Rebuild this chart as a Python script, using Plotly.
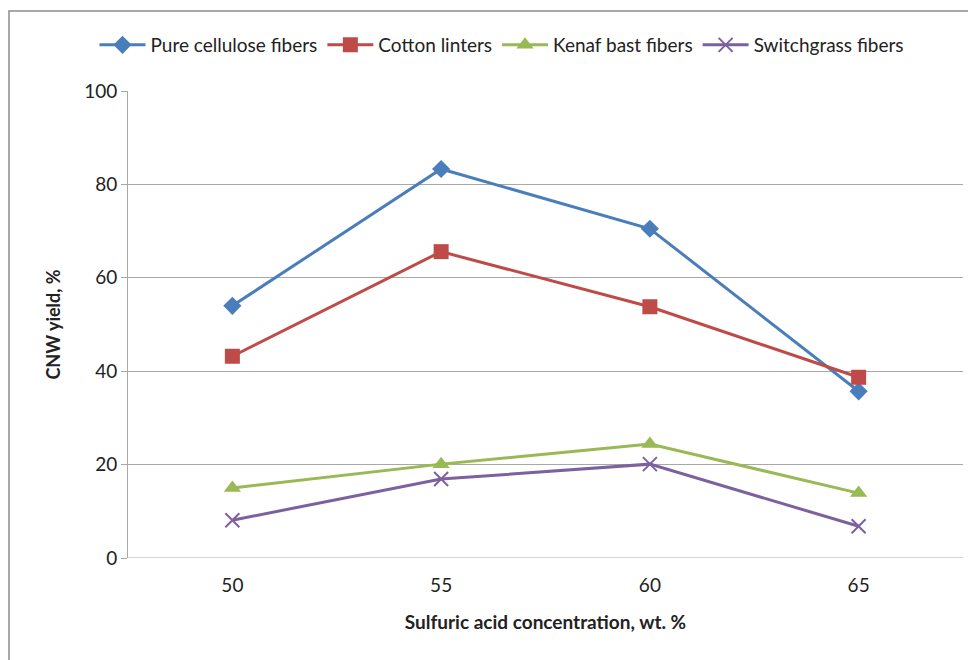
import plotly.graph_objects as go

categories = ["50", "55", "60", "65"]
pure_cellulose = [54.0, 83.3, 70.5, 35.7]
cotton_linters = [43.2, 65.6, 53.8, 38.7]
kenaf_bast = [15.0, 20.1, 24.4, 13.9]
switchgrass = [8.1, 16.9, 20.1, 6.8]
y_ticks = [0, 20, 40, 60, 80, 100]

series = [
    ("Pure cellulose fibers", pure_cellulose, "#4A7EBB", "diamond", 14),
    ("Cotton linters", cotton_linters, "#BE4B48", "square", 15),
    ("Kenaf bast fibers", kenaf_bast, "#98B954", "triangle-up", 15),
    ("Switchgrass fibers", switchgrass, "#7D60A0", "x-thin", 14),
]

font_fam = "Lato, Carlito, Calibri, sans-serif"

# page body has an 8px default margin; figure is sized/offset to compensate
W, H = 968, 652
L, T, R, B = 120, 83, 13, 102
PW, PH = W - L - R, H - T - B

fig = go.Figure()
for name, vals, color, sym, size in series:
    marker = dict(symbol=sym, size=size, color=color)
    if sym == "x-thin":
        marker["line"] = dict(color=color, width=2)
    fig.add_trace(go.Scatter(
        x=categories, y=vals, name=name, mode="lines+markers",
        line=dict(color=color, width=3), marker=marker,
    ))

fig.update_layout(
    width=W, height=H,
    margin=dict(l=L, r=R, t=T, b=B),
    paper_bgcolor="white", plot_bgcolor="white",
    font=dict(family=font_fam, size=19, color="#222"),
    showlegend=True,
    legend=dict(orientation="h", x=(502 - 8 - L) / PW, xanchor="center", y=1 - 37 / H, yref="container",
                yanchor="middle", font=dict(size=19, family=font_fam), itemwidth=46,
                tracegroupgap=0, bgcolor="rgba(0,0,0,0)"),
    xaxis=dict(type="category", range=[-0.5, 3.5], showgrid=False, showline=False, zeroline=False,
               ticks="", tickfont=dict(size=19), ticklabelstandoff=14, automargin=False,
               title=dict(text="<b>Sulfuric acid concentration, wt. %</b>", font=dict(size=19), standoff=20)),
    yaxis=dict(range=[0, 100], tickvals=y_ticks, showgrid=True, gridcolor="#a8a8a8", gridwidth=1,
               showline=True, linecolor="#a8a8a8", linewidth=1, zeroline=False, automargin=False,
               ticks="outside", ticklen=6, tickcolor="#a8a8a8", tickfont=dict(size=19),
               title=dict(text="<b>CNW yield, %</b>", font=dict(size=18), standoff=18)),
    shapes=[
        dict(type="rect", xref="paper", yref="paper", layer="below",
             x0=-(L - 1) / PW, x1=1.1, y0=-0.3, y1=1 + (T - 3) / PH,
             line=dict(color="#8c8c8c", width=1.5)),
        dict(type="line", xref="paper", yref="y", x0=0, x1=1, y0=0, y1=0,
             line=dict(color="#a8a8a8", width=1)),
    ],
)

fig.write_html("out.html")
